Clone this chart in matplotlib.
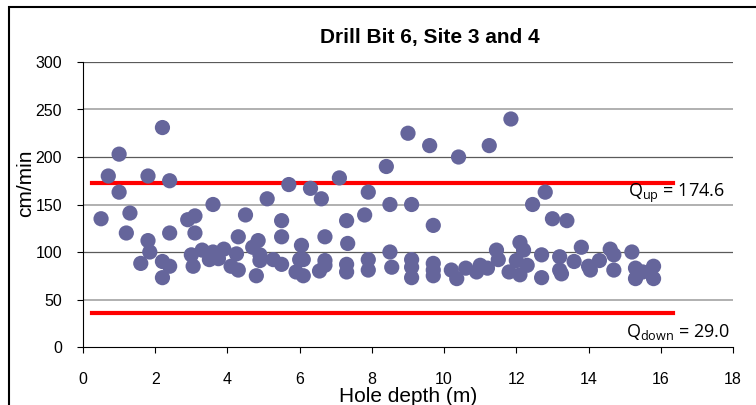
import matplotlib
matplotlib.use("Agg")
from matplotlib import pyplot as plt
from matplotlib.patches import Rectangle

plt.rcParams['font.family'] = ['Liberation Sans', 'DejaVu Sans']

# hole depth (m) and drilling rate (cm/min)
depth = [0.5, 0.7, 1.0, 1.0, 1.2, 1.3, 1.6, 1.8, 1.8, 1.85, 2.2, 2.2, 2.2, 2.4, 2.4, 2.4,
         2.9, 3.0, 3.05, 3.1, 3.1, 3.3, 3.5, 3.6, 3.6, 3.75, 3.9, 4.1, 4.25, 4.3, 4.3, 4.5,
         4.7, 4.8, 4.85, 4.9, 4.9, 5.1, 5.27, 5.5, 5.5, 5.5, 5.7, 5.9, 6.0, 6.05, 6.1, 6.1,
         6.3, 6.55, 6.6, 6.7, 6.7, 6.7, 7.1, 7.3, 7.33, 7.3, 7.3, 7.8, 7.9, 7.9, 7.9,
         8.4, 8.5, 8.5, 8.55, 9.0, 9.1, 9.1, 9.1, 9.1, 9.6, 9.7, 9.7, 9.7, 9.7,
         10.2, 10.35, 10.4, 10.6, 10.9, 11.0, 11.2, 11.25, 11.45, 11.5, 11.8, 11.85,
         12.0, 12.1, 12.1, 12.2, 12.3, 12.45, 12.7, 12.7, 12.8, 13.0, 13.2, 13.2, 13.25,
         13.4, 13.6, 13.8, 14.0, 14.05, 14.3, 14.6, 14.7, 14.7, 15.2, 15.3, 15.3, 15.5,
         15.8, 15.8]
rate = [135, 180, 203, 163, 120, 141, 88, 180, 112, 100, 231, 90, 73, 175, 85, 120,
        134, 97, 85, 138, 120, 102, 92, 150, 100, 93, 103, 85, 98, 116, 81, 139,
        105, 75, 112, 97, 91, 156, 92, 133, 116, 87, 171, 79, 92, 107, 75, 92,
        167, 80, 156, 116, 91, 86, 178, 133, 109, 87, 79, 139, 163, 92, 81,
        190, 150, 100, 84, 225, 150, 92, 84, 73, 212, 128, 88, 81, 75,
        81, 72, 200, 83, 79, 86, 83, 212, 102, 92, 79, 240,
        91, 110, 76, 102, 86, 150, 97, 73, 163, 135, 95, 81, 77,
        133, 90, 105, 85, 81, 91, 103, 97, 81, 100, 83, 72, 79,
        85, 72]

q_up_y = 173
q_down_y = 36
q_x = [0.25, 16.35]

fig = plt.figure(figsize=(7.56, 4.05), dpi=100)
fig.patches.append(Rectangle((9 / 756, -0.1), 2, 1.1 - 7 / 405, transform=fig.transFigure,
                             fill=False, edgecolor='black', linewidth=1.5))
ax = fig.add_axes([83 / 756, 1 - 347 / 405, 650 / 756, 285 / 405])

for y in range(50, 301, 50):
    if y % 100 == 0:
        ax.axhline(y, color='#5a5a5a', linewidth=0.9, zorder=0)
    else:
        ax.axhline(y, color='#b0b0b0', linewidth=1.4, zorder=0)

ax.scatter(depth, rate, s=120, color='#65659b', edgecolors='none', zorder=3)
ax.plot(q_x, [q_up_y, q_up_y], color='#ff0000', linewidth=3, zorder=2)
ax.plot(q_x, [q_down_y, q_down_y], color='#ff0000', linewidth=3, zorder=2)

ax.text(17.78, 158, r'Q$_{\mathregular{up}}$ = 174.6', ha='right', va='baseline', fontsize=13,
        family='Open Sans')
ax.text(17.9, 10.5, r'Q$_{\mathregular{down}}$ = 29.0', ha='right', va='baseline', fontsize=13,
        family='Open Sans')

ax.set_xlim(0, 18)
ax.set_ylim(0, 300)
ax.set_xticks(range(0, 19, 2))
ax.set_yticks(range(0, 301, 50))
ax.tick_params(axis='both', direction='out', labelsize=11.5)
ax.tick_params(axis='x', length=4.3, pad=14)
ax.tick_params(axis='y', length=4, pad=11)
for s in ['top', 'right']:
    ax.spines[s].set_visible(False)

fig.text(430 / 756, 1 - 43 / 405, 'Drill Bit 6, Site 3 and 4', ha='center', va='baseline',
         fontsize=15, fontweight='bold')
fig.text(408 / 756, 1 - 402 / 405, 'Hole depth (m)', ha='center', va='baseline', fontsize=15)
fig.text(26 / 756, 1 - 183 / 405, 'cm/min', ha='center', va='center', rotation=90, fontsize=15)

fig.savefig('out.png', dpi=100)
